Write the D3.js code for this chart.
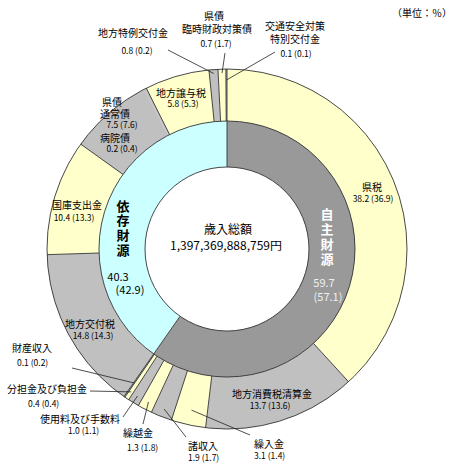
<!DOCTYPE html>
<html><head><meta charset="utf-8">
<script src="https://cdn.jsdelivr.net/npm/d3@7"></script>
<style>
html,body{margin:0;padding:0;background:#fff;}
svg{display:block;font-family:"Noto Sans CJK JP","Noto Sans",sans-serif;}
</style></head>
<body><svg id="c" width="455" height="470"></svg>
<script>
// ---- data ----
const innerCats = ["自主財源", "依存財源"];
const innerVals = [59.7, 40.3];
const innerPrev = [57.1, 42.9];

const outerCats = ["県税", "地方消費税清算金", "繰入金", "諸収入", "繰越金", "使用料及び手数料",
  "分担金及び負担金", "財産収入", "地方交付税", "国庫支出金", "県債通常債", "病院債",
  "地方譲与税", "地方特例交付金", "県債臨時財政対策債", "交通安全対策特別交付金"];
const outerVals = [38.2, 13.7, 3.1, 1.9, 1.3, 1.0, 0.4, 0.1, 14.8, 10.4, 7.5, 0.2, 5.8, 0.8, 0.7, 0.1];
const outerPrev = [36.9, 13.6, 1.4, 1.7, 1.8, 1.1, 0.4, 0.2, 14.3, 13.3, 7.6, 0.4, 5.3, 0.2, 1.7, 0.1];

const totalTitle = "歳入総額";
const totalText = "1,397,369,888,759円";
const unitText = "（単位：％）";

// ---- styles / layout ----
const YEL = "#FFFFCC", GRY = "#C0C0C0";
const outerColor = d3.scaleOrdinal().domain(outerCats).range([
  YEL, GRY, YEL, GRY, YEL, GRY, YEL, GRY, GRY, YEL, GRY, GRY, YEL, GRY, YEL, GRY]);
const innerColor = d3.scaleOrdinal().domain(innerCats).range(["#999999", "#CCFFFF"]);
const noBoundary = new Set(["病院債"]); // drawn as one block with 県債通常債

const svg = d3.select("#c");
const W = 455, H = 470;
const cx = 227, cy = 249, rOut = 180, rMid = 128, rIn = 82;
const g = svg.append("g").attr("transform", `translate(${cx},${cy})`);

const pie = d3.pie().sort(null).value(d => d.v).startAngle(0).endAngle(2 * Math.PI);
const outerData = pie(outerCats.map((c, i) => ({c, v: outerVals[i], p: outerPrev[i]})));
const innerData = pie(innerCats.map((c, i) => ({c, v: innerVals[i], p: innerPrev[i]})));

const arcOut = d3.arc().innerRadius(rMid).outerRadius(rOut);
const arcIn = d3.arc().innerRadius(rIn).outerRadius(rMid);

g.selectAll("path.o").data(outerData).join("path").attr("class", "o")
  .attr("d", arcOut).attr("fill", d => outerColor(d.data.c)).attr("stroke", "none");
g.selectAll("path.i").data(innerData).join("path").attr("class", "i")
  .attr("d", arcIn).attr("fill", d => innerColor(d.data.c)).attr("stroke", "none");

const STK = "#333", SW = 0.9;
// boundaries
g.selectAll("line.ob").data(outerData.filter(d => !noBoundary.has(d.data.c))).join("line")
  .attr("class", "ob")
  .attr("x1", d => d3.pointRadial(d.startAngle, rMid)[0]).attr("y1", d => d3.pointRadial(d.startAngle, rMid)[1])
  .attr("x2", d => d3.pointRadial(d.startAngle, rOut)[0]).attr("y2", d => d3.pointRadial(d.startAngle, rOut)[1])
  .attr("stroke", STK).attr("stroke-width", SW);
g.selectAll("line.ib").data(innerData).join("line").attr("class", "ib")
  .attr("x1", d => d3.pointRadial(d.startAngle, rIn)[0]).attr("y1", d => d3.pointRadial(d.startAngle, rIn)[1])
  .attr("x2", d => d3.pointRadial(d.startAngle, rMid)[0]).attr("y2", d => d3.pointRadial(d.startAngle, rMid)[1])
  .attr("stroke", STK).attr("stroke-width", SW);
[rOut, rMid, rIn].forEach(r => g.append("circle").attr("r", r).attr("fill", "none")
  .attr("stroke", STK).attr("stroke-width", SW));

// ---- labels ----
const fmt = d => `${d.data.v.toFixed(1)} (${d.data.p.toFixed(1)})`;
const LBL = 10, NUM = 8.5;
function txt(x, y, s, size, anchor, fill, weight) {
  svg.append("text").attr("x", x).attr("y", y).attr("dominant-baseline", "central")
    .attr("text-anchor", anchor || "middle").attr("font-size", size)
    .attr("fill", fill || "#000").attr("font-weight", weight || "normal").text(s);
}
// layout: name lines, name position, value position, anchor, optional leader
const layout = {
  "県税": {names: [["県税", 372, 186]], val: [373, 198]},
  "地方消費税清算金": {names: [["地方消費税清算金", 272, 393]], val: [270, 405]},
  "繰入金": {names: [["繰入金", 254, 443]], val: [254, 455], a: "start", from: [250, 435], r: 165},
  "諸収入": {names: [["諸収入", 188, 445]], val: [188, 457], a: "start", from: [186, 437], r: 172},
  "繰越金": {names: [["繰越金", 123, 432]], val: [127, 447], a: "start", from: [143, 424], r: 172},
  "使用料及び手数料": {names: [["使用料及び手数料", 40, 418]], val: [68, 430], a: "start", from: [123, 417], r: 172},
  "分担金及び負担金": {names: [["分担金及び負担金", 7, 388]], val: [28, 403], a: "start", from: [90, 391], r: 172},
  "財産収入": {names: [["財産収入", 12, 347]], val: [17, 362], a: "start", from: [72, 368], r: 163},
  "地方交付税": {names: [["地方交付税", 90, 323]], val: [93, 335]},
  "国庫支出金": {names: [["国庫支出金", 77, 204]], val: [74, 217]},
  "県債通常債": {names: [["県債", 112, 101], ["通常債", 115, 113]], val: [122, 124]},
  "病院債": {names: [["病院債", 115, 137]], val: [122, 148]},
  "地方譲与税": {names: [["地方譲与税", 181, 92]], val: [183, 103]},
  "地方特例交付金": {names: [["地方特例交付金", 133, 32]], val: [137, 50], from: [168, 50], r: 176},
  "県債臨時財政対策債": {names: [["県債", 214, 15], ["臨時財政対策債", 217, 28]], val: [216, 43], from: [225, 53], r: 176},
  "交通安全対策特別交付金": {names: [["交通安全対策", 295, 25], ["特別交付金", 295, 38]], val: [296, 53], from: [275, 52], r: 169}
};
outerData.forEach(d => {
  const L = layout[d.data.c];
  if (!L) return;
  L.names.forEach(n => txt(n[0] === undefined ? 0 : n[1], n[2], n[0], LBL, L.a));
  txt(L.val[0], L.val[1], fmt(d), NUM, L.a);
  if (L.from) {
    const mid = (d.startAngle + d.endAngle) / 2;
    const p = d3.pointRadial(mid, L.r);
    svg.append("line").attr("x1", L.from[0]).attr("y1", L.from[1])
      .attr("x2", cx + p[0]).attr("y2", cy + p[1]).attr("stroke", "#222").attr("stroke-width", 0.8);
  }
});

// inner ring vertical labels
const innerLayout = {
  "自主財源": {x: 327, y0: 213, step: 15, fill: "#ffffff", val: [324, 282], prev: [328, 296], vfill: "#f0f0f0"},
  "依存財源": {x: 123, y0: 205, step: 14.7, fill: "#000000", val: [118, 276], prev: [130, 289], vfill: "#000"}
};
innerData.forEach(d => {
  const L = innerLayout[d.data.c];
  Array.from(d.data.c).forEach((ch, i) => txt(L.x, L.y0 + i * L.step, ch, 13, "middle", L.fill, "bold"));
  txt(L.val[0], L.val[1], d.data.v.toFixed(1), 11, "middle", L.vfill);
  txt(L.prev[0], L.prev[1], `(${d.data.p.toFixed(1)})`, 11, "middle", L.vfill);
});

// center
txt(228, 228, totalTitle, 12);
svg.append("text").attr("x", 226).attr("y", 245).attr("dominant-baseline", "central")
  .attr("text-anchor", "middle").attr("font-size", 11.5).attr("textLength", 112)
  .attr("lengthAdjust", "spacingAndGlyphs").text(totalText);
txt(452, 12, unitText, 10, "end");
</script></body></html>
